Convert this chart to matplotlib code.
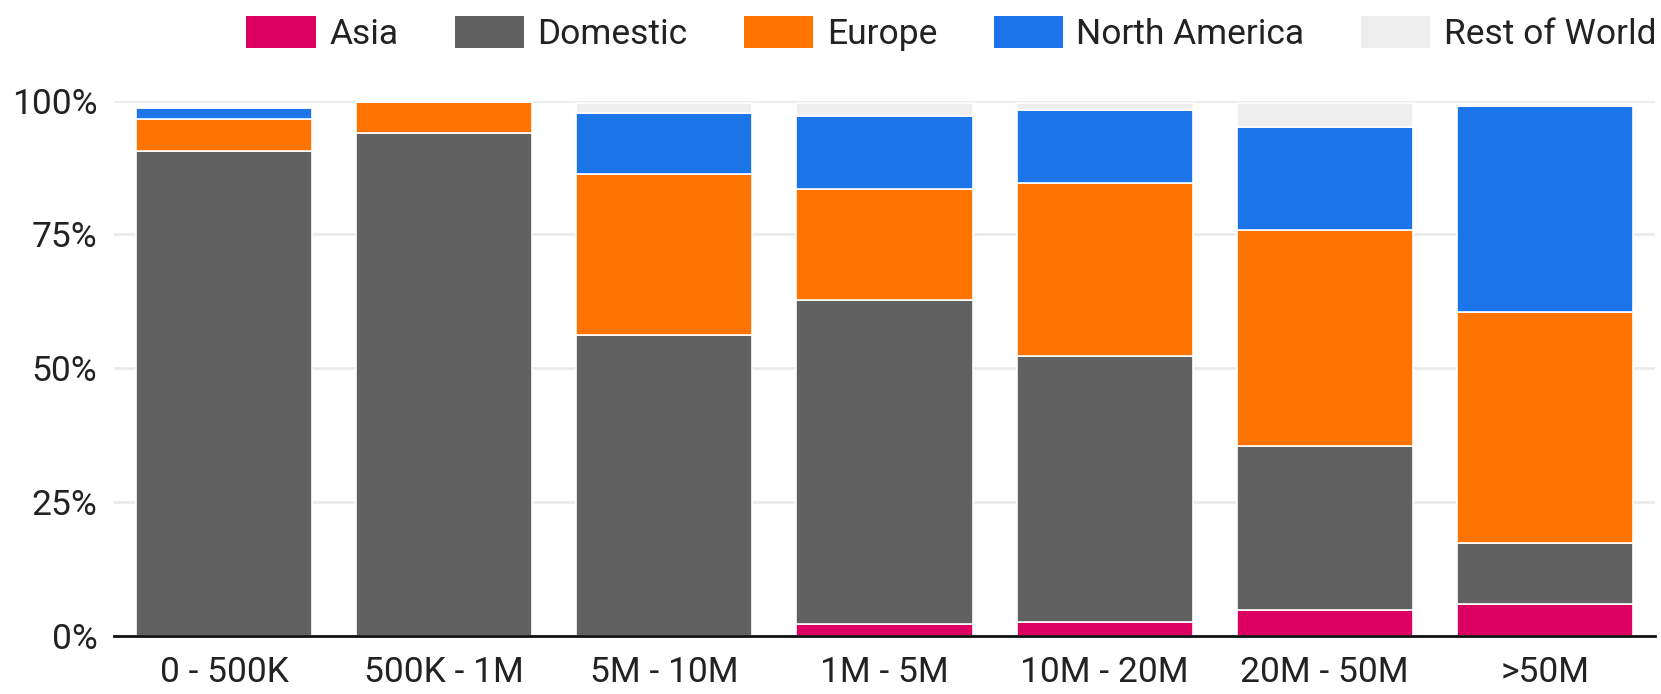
import numpy as np
import matplotlib.pyplot as plt
from matplotlib.ticker import FuncFormatter

plt.rcParams['font.family'] = ['Roboto', 'DejaVu Sans']

# size bands (x axis)
categories = ['0 - 500K', '500K - 1M', '5M - 10M', '1M - 5M', '10M - 20M', '20M - 50M', '>50M']

# share of each region per band, in percent
asia = [0.0, 0.0, 0.0, 2.1, 2.5, 4.8, 5.9]
domestic = [90.5, 93.9, 56.2, 60.6, 49.8, 30.6, 11.5]
europe = [6.1, 5.8, 30.0, 20.7, 32.3, 40.5, 43.1]
north_america = [2.0, 0.0, 11.5, 13.7, 13.7, 19.1, 38.5]
rest_of_world = [0.0, 0.0, 1.8, 2.4, 1.2, 4.5, 0.0]

series_names = ['Asia', 'Domestic', 'Europe', 'North America', 'Rest of World']
series_colors = ['#db0062', '#616161', '#ff7300', '#1b74e8', '#eeeeee']
y_ticks = [0, 25, 50, 75, 100]


def stacked_bars(ax):
    x = np.arange(len(categories))
    bottom = np.zeros(len(categories))
    for name, vals, col in zip(series_names,
                               [asia, domestic, europe, north_america, rest_of_world],
                               series_colors):
        vals = np.array(vals)
        ax.bar(x, vals, width=0.8, bottom=bottom, color=col, label=name,
               edgecolor='white', linewidth=1.2, zorder=3)
        bottom += vals
    return x


fig = plt.figure(figsize=(16.61, 6.94), dpi=100)
ax = fig.add_axes([0.0686, 0.0841, 0.9278, 0.7709])

x = stacked_bars(ax)

ax.set_xlim(-0.5, len(categories) - 0.5)
ax.set_ylim(0, 100)
ax.set_xticks(x)
ax.set_xticklabels(categories)
ax.set_yticks(y_ticks)
ax.yaxis.set_major_formatter(FuncFormatter(lambda v, p: '%d%%' % v))
ax.tick_params(axis='both', length=0, labelsize=25.5, colors='#222222')
ax.tick_params(axis='y', pad=12)
ax.tick_params(axis='x', pad=15)

ax.grid(axis='y', color='#ebebeb', linewidth=2, zorder=0)
for side in ['top', 'right', 'left']:
    ax.spines[side].set_visible(False)
ax.spines['bottom'].set_color('#111111')
ax.spines['bottom'].set_linewidth(2)
ax.spines['bottom'].set_zorder(4)

handles, labels = ax.get_legend_handles_labels()
leg = fig.legend(handles, labels, loc='center right', bbox_to_anchor=(0.997, 0.952),
                 ncol=5, frameon=False, fontsize=25.5, borderaxespad=0, borderpad=0,
                 handlelength=1.95, handleheight=1.0, handletextpad=0.38,
                 columnspacing=1.6)
for t in leg.get_texts():
    t.set_color('#222222')
for h in leg.legend_handles:
    h.set_edgecolor('none')

fig.savefig('out.png', dpi=100)
